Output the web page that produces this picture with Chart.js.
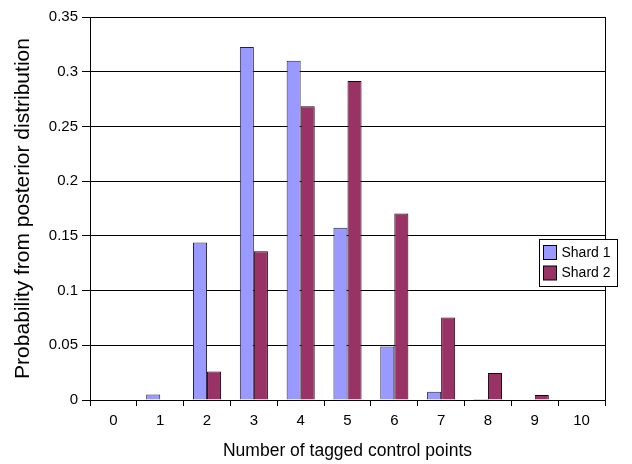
<!DOCTYPE html>
<html>
<head>
<meta charset="utf-8">
<script src="https://cdn.jsdelivr.net/npm/chart.js@4"></script>
<style>
  html, body { margin: 0; padding: 0; background: #fff; }
  #wrap { width: 632px; height: 464px; }
</style>
</head>
<body>
<div id="wrap"><canvas id="grafico" width="632" height="464"></canvas></div>
<script>
const categorias = ['0', '1', '2', '3', '4', '5', '6', '7', '8', '9', '10'];
const shard1 = [0, 0.005, 0.144, 0.3225, 0.310, 0.1575, 0.049, 0.0076, 0.001, 0, 0];
const shard2 = [0, 0.0005, 0.026, 0.136, 0.2685, 0.2915, 0.1705, 0.0755, 0.0247, 0.0046, 0];

const fonte = 'Arial, "Liberation Sans", sans-serif';

// moldura do grafico e legenda desenhada a mao
const molduraPlugin = {
  id: 'moldura',
  afterDraw(chart) {
    const ctx = chart.ctx;
    const a = chart.chartArea;
    ctx.save();
    ctx.strokeStyle = '#000';
    ctx.lineWidth = 1;
    ctx.strokeRect(Math.round(a.left) + 0.5, Math.round(a.top) + 0.5,
      Math.round(a.right - a.left), Math.round(a.bottom - a.top));

    // legenda
    const lx = 539.5, ly = 239.5, lw = 78, lh = 47;
    ctx.fillStyle = '#fff';
    ctx.fillRect(lx, ly, lw, lh);
    ctx.strokeStyle = '#000';
    ctx.strokeRect(lx, ly, lw, lh);
    ctx.font = '14px ' + fonte;
    ctx.textBaseline = 'middle';
    chart.data.datasets.forEach((ds, i) => {
      const y = ly + 6 + i * 20.5;
      ctx.fillStyle = ds.backgroundColor;
      ctx.fillRect(lx + 4, y, 13, 14);
      ctx.strokeStyle = '#000';
      ctx.strokeRect(lx + 4, y, 13, 14);
      ctx.fillStyle = '#000';
      ctx.fillText(ds.label, lx + 22, y + 7.5);
    });
    ctx.restore();
  }
};

new Chart(document.getElementById('grafico').getContext('2d'), {
  type: 'bar',
  data: {
    labels: categorias,
    datasets: [
      {
        label: 'Shard 1',
        data: shard1,
        backgroundColor: '#9999ff',
        borderColor: '#222244',
        borderWidth: 1
      },
      {
        label: 'Shard 2',
        data: shard2,
        backgroundColor: '#993366',
        borderColor: '#220011',
        borderWidth: 1
      }
    ]
  },
  options: {
    responsive: false,
    animation: false,
    layout: { padding: { top: 17, right: 27, left: 0, bottom: 0 } },
    datasets: {
      bar: { categoryPercentage: 0.6, barPercentage: 1 }
    },
    scales: {
      x: {
        offset: true,
        grid: {
          offset: true,
          drawOnChartArea: false,
          drawTicks: true,
          tickLength: 6,
          color: '#000'
        },
        border: { color: '#000' },
        ticks: { color: '#000', font: { family: fonte, size: 15 }, padding: 6 },
        title: {
          display: true,
          text: 'Number of tagged control points',
          color: '#000',
          font: { family: fonte, size: 17.5 },
          padding: { top: 4, bottom: 2 }
        },
        afterFit(scale) { scale.height = 64; }
      },
      y: {
        min: 0,
        max: 0.35,
        ticks: {
          stepSize: 0.05,
          color: '#000',
          font: { family: fonte, size: 15 },
          padding: 4,
          callback: v => String(Math.round(v * 100) / 100)
        },
        grid: { color: '#000', tickLength: 8 },
        border: { color: '#000' },
        title: {
          display: true,
          text: 'Probability from posterior distribution',
          color: '#000',
          font: { family: fonte, size: 21 },
          padding: { top: 11, bottom: 4 }
        },
        afterFit(scale) { scale.width = 90; }
      }
    },
    plugins: {
      legend: { display: false },
      tooltip: { enabled: false }
    }
  },
  plugins: [molduraPlugin]
});
</script>
</body>
</html>
